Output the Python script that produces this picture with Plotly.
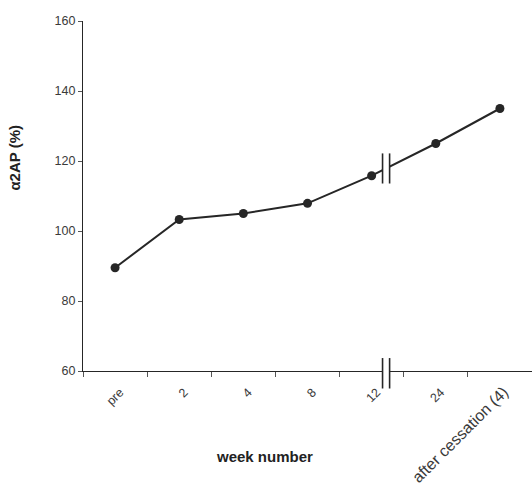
import plotly.graph_objects as go

categories = ["pre", "2", "4", "8", "12", "24", "after cessation (4)"]
values = [89.5, 103.3, 105.0, 107.9, 115.8, 125.0, 135.0]
y_ticks = [60, 80, 100, 120, 140, 160]

INK = "#262626"
FONT = "Liberation Sans, Arial, sans-serif"

# the last (long) label is printed a little larger in the original
tick_text = [c if len(c) < 10 else f"<span style='font-size:16px'>{c}</span>"
             for c in categories]

fig = go.Figure()
fig.add_trace(go.Scatter(
    x=categories, y=values, mode="lines+markers",
    line=dict(color=INK, width=2),
    marker=dict(color=INK, size=9),
    cliponaxis=False,
    showlegend=False,
))

# break position (in category index units) between "12" and "24"
b0, b1 = 4.17, 4.28
y_at_break = values[4] + (values[5] - values[4]) * ((b0 + b1) / 2 - 4)
shapes = []
shapes.append(dict(type="rect", xref="x", yref="y", x0=b0, x1=b1,
                   y0=y_at_break - 1.5, y1=y_at_break + 1.5,
                   fillcolor="white", line=dict(width=0), layer="above"))
for bx in (b0, b1):
    shapes.append(dict(type="line", xref="x", yref="y", x0=bx, x1=bx,
                       y0=y_at_break - 4.3, y1=y_at_break + 4.3,
                       line=dict(color=INK, width=1.6), layer="above"))
shapes.append(dict(type="rect", xref="x", yref="paper", x0=b0, x1=b1,
                   y0=-0.004, y1=0.004,
                   fillcolor="white", line=dict(width=0), layer="above"))
for bx in (b0, b1):
    shapes.append(dict(type="line", xref="x", yref="paper", x0=bx, x1=bx,
                       y0=-0.05, y1=0.037,
                       line=dict(color=INK, width=1.6), layer="above"))

annotations = [
    dict(text="<b>week number</b>", xref="paper", yref="paper",
         x=0.405, y=-0.243, showarrow=False, xanchor="center", yanchor="middle",
         font=dict(family=FONT, size=15, color="#222")),
    dict(text="<b>α2AP (%)</b>", xref="paper", yref="paper",
         x=-0.152, y=0.609, showarrow=False, xanchor="center", yanchor="middle",
         textangle=-90, font=dict(family=FONT, size=15, color="#222")),
]

fig.update_layout(
    width=532, height=485,
    margin=dict(l=83, r=0, t=21, b=114, autoexpand=False),
    paper_bgcolor="white", plot_bgcolor="white",
    font=dict(family=FONT, color="#3a3a3a", size=12),
    shapes=shapes,
    annotations=annotations,
    xaxis=dict(
        type="category", range=[-0.5, 6.5],
        tickmode="array", tickvals=categories, ticktext=tick_text,
        automargin=False,
        showline=True, linecolor=INK, linewidth=1.2,
        showgrid=False, zeroline=False,
        ticks="outside", tickson="boundaries", ticklen=5, tickcolor="#555",
        tickangle=-45, tickfont=dict(size=12.5, color="#3a3a3a"),
        ticklabelstandoff=8, ticklabelshift=5,
    ),
    yaxis=dict(
        range=[60, 160], tickvals=y_ticks,
        automargin=False,
        showline=True, linecolor=INK, linewidth=1.2,
        showgrid=False, zeroline=False,
        ticks="outside", ticklen=4, tickcolor="#555",
        tickfont=dict(size=12.5, color="#3a3a3a"),
    ),
)

fig.write_html(
    "out.html",
    config={"displayModeBar": False},
    post_script="document.body.style.margin='0';document.body.style.overflow='hidden';",
)
